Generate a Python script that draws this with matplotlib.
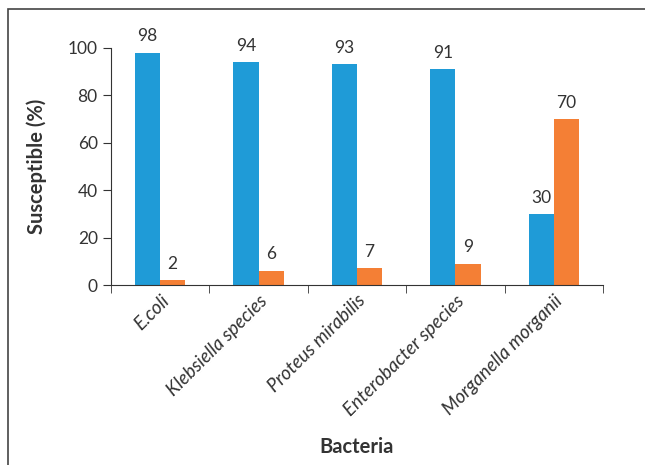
import numpy as np
import matplotlib.pyplot as plt
from matplotlib.patches import Rectangle

bacteria = ['E.coli', 'Klebsiella species', 'Proteus mirabilis',
            'Enterobacter species', 'Morganella morganii']
susceptible = [98, 94, 93, 91, 30]
resistant = [2, 6, 7, 9, 70]

blue = '#1f9bd7'
orange = '#f47f35'
txt = '#333333'

plt.rcParams['font.family'] = ['Lato', 'DejaVu Sans']

fig = plt.figure(figsize=(6.45, 4.65), dpi=100)
ax = fig.add_axes([0.172, 0.387, 0.763, 0.51])

x = np.arange(len(bacteria))
w = 0.255
b1 = ax.bar(x - w / 2, susceptible, w, color=blue)
b2 = ax.bar(x + w / 2, resistant, w, color=orange)

for bars, vals in [(b1, susceptible), (b2, resistant)]:
    for b, v in zip(bars, vals):
        ax.annotate(str(v), (b.get_x() + b.get_width() / 2, v),
                    xytext=(0, 6), textcoords='offset points',
                    ha='center', va='bottom', fontsize=12.5, color=txt)

ax.set_xlim(-0.5, len(bacteria) - 0.5)
ax.set_ylim(0, 100)
ax.set_yticks(range(0, 101, 20))
ax.tick_params(axis='y', labelsize=12.5, labelcolor=txt, length=6, color=txt)

ax.set_xticks(x)
ax.set_xticklabels(bacteria, rotation=45, ha='right', rotation_mode='anchor',
                   fontsize=13.5, color=txt, style='italic')
ax.tick_params(axis='x', length=0, pad=5)
ax.set_xticks(np.arange(-0.5, len(bacteria)), minor=True)
ax.tick_params(axis='x', which='minor', length=6, color=txt)

for s in ['top', 'right']:
    ax.spines[s].set_visible(False)
for s in ['left', 'bottom']:
    ax.spines[s].set_color(txt)

ax.set_ylabel('Susceptible (%)', fontsize=14.5, fontweight='bold', color=txt, labelpad=15)
ax.set_xlabel('Bacteria', fontsize=14.5, fontweight='bold', color=txt)
ax.xaxis.set_label_coords(0.5, -0.64)

fig.add_artist(Rectangle((8 / 645, -0.1), 2, 1.1 - 9 / 465, transform=fig.transFigure,
                         fill=False, edgecolor='#444444', lw=1.2, clip_on=False))

fig.savefig('out.png', dpi=100)
